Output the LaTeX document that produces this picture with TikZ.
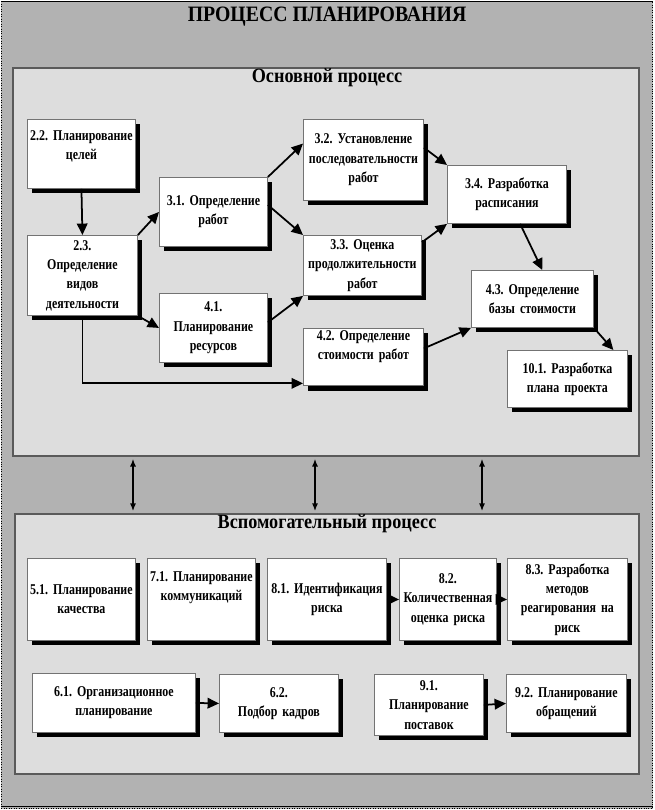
\documentclass[tikz,border=0pt]{standalone}
\usepackage{fontspec}
\setmainfont{Liberation Serif}
\newfontfamily\boxfont[FakeStretch=0.8, WordSpace=0.75]{Liberation Serif}
\newfontfamily\headfont[FakeStretch=0.9]{Liberation Serif}
\usepackage{tikz}
\usetikzlibrary{arrows.meta, positioning, calc, shadows}
\definecolor{outergray}{HTML}{B2B2B2}
\definecolor{innergray}{HTML}{DDDDDD}
\definecolor{framegray}{HTML}{5A5A5A}
\frenchspacing

\tikzset{
  frame/.style={draw=framegray, line width=1.1pt, fill=innergray, anchor=north west},
  blk/.style={draw=black!55, line width=0.5pt, fill=white, inner xsep=0pt, inner ysep=1pt,
    align=center, anchor=north west, font=\boxfont\fontsize{8.5}{11}\selectfont\bfseries,
    drop shadow={shadow xshift=0.1cm, shadow yshift=-0.1cm, opacity=1, fill=black}},
  bsize/.style 2 args={text width=#1cm, minimum height=#2cm},
  arr/.style={-{Triangle[length=6.5pt,width=6pt]}, line width=1pt},
  dbl/.style={{Latex[length=4.5pt,width=3.5pt]}-{Latex[length=4.5pt,width=3.5pt]}, line width=0.9pt}
}

\begin{document}
\begin{tikzpicture}[scale=1.0]
  \useasboundingbox (0,0) rectangle (13.08,-16.2);

  % Outer field
  \draw[densely dotted, fill=outergray] (0.03,-0.03) rectangle (13.05,-16.17);
  \draw[line width=0.8pt] (0.03,-0.03) -- (13.05,-0.03);
  \draw[line width=0.8pt] (0.03,-16.13) -- (13.05,-16.13);
  \node[font=\headfont\fontsize{12.5}{14}\selectfont\bfseries] (title) at (6.54,-0.34) {ПРОЦЕСС ПЛАНИРОВАНИЯ};

  % Main process frame
  \node[frame, minimum width=12.52cm, minimum height=7.76cm] (osn) at (0.24,-1.34) {};
  \node[font=\headfont\fontsize{11.5}{13}\selectfont\bfseries] (osnT) at (6.54,-1.56) {Основной процесс};

  % Supporting process frame
  \node[frame, minimum width=12.48cm, minimum height=5.2cm] (vsp) at (0.28,-10.26) {};
  \node[font=\headfont\fontsize{11.5}{13}\selectfont\bfseries] (vspT) at (6.54,-10.48) {Вспомогательный процесс};

  % Links between the two processes
  \foreach \xx in {2.66,6.3,9.64}
    \draw[dbl, shorten <=1pt, shorten >=1pt] (\xx,0 |- osn.south) -- (\xx,0 |- vsp.north);

  % Main process blocks
  \node[blk, bsize={2.16}{1.38}, text depth=0.73cm] (b22) at (0.54,-2.38) {2.2. Планирование\\целей};
  \node[blk, bsize={2.2}{1.6}] (b23) at (0.54,-4.7) {2.3.\\Определение\\видов\\деятельности};
  \node[blk, bsize={2.16}{1.38}] (b31) at (3.18,-3.54) {3.1. Определение\\работ};
  \node[blk, bsize={2.16}{1.38}] (b41) at (3.18,-5.86) {4.1.\\Планирование\\ресурсов};
  \node[blk, bsize={2.4}{1.62}] (b32) at (6.06,-2.38) {3.2. Установление\\последовательности\\работ};
  \node[blk, bsize={2.36}{1.2}] (b33) at (6.06,-4.7) {3.3. Оценка\\продолжительности\\работ};
  \node[blk, bsize={2.4}{1.14}, text depth=0.88cm] (b42) at (6.06,-6.56) {4.2. Определение\\стоимости работ};
  \node[blk, bsize={2.38}{1.16}] (b34) at (8.94,-3.3) {3.4. Разработка\\расписания};
  \node[blk, bsize={2.44}{1.14}] (b43) at (9.42,-5.4) {4.3. Определение\\базы стоимости};
  \node[blk, bsize={2.4}{1.14}] (b101) at (10.14,-7.0) {10.1. Разработка\\плана проекта};

  % Main process arrows
  \draw[arr] (b22.south) -- (b23.north);
  \draw[arr] (b23.north east) -- (b31.west);
  \draw[arr] (b23.south east) -- (b41.west);
  \draw[arr] (b23.south) |- ($(b42.north west)!0.95!(b42.south west)$);
  \draw[arr] (b31.north east) -- ($(b32.north west)!0.3!(b32.south west)$);
  \draw[arr] ($(b31.north east)!0.4!(b31.south east)$) -- (b33.north west);
  \draw[arr] ($(b41.north east)!0.42!(b41.south east)$) -- (b33.south west);
  \draw[arr] ($(b32.north east)!0.35!(b32.south east)$) -- (b34.north west);
  \draw[arr] ($(b33.north east)!0.12!(b33.south east)$) -- (b34.south west);
  \draw[arr] ($(b34.south west)!0.61!(b34.south east)$) -- ($(b43.north west)!0.58!(b43.north east)$);
  \draw[arr] ($(b42.north east)!0.35!(b42.south east)$) -- (b43.south west);
  \draw[arr] (b43.south east) -- ($(b101.north west)!0.88!(b101.north east)$);

  % Supporting process blocks
  \node[blk, bsize={2.16}{1.64}] (b51) at (0.54,-11.16) {5.1. Планирование\\качества};
  \node[blk, bsize={2.16}{1.64}, text depth=0.91cm] (b71) at (2.94,-11.16) {7.1. Планирование\\коммуникаций};
  \node[blk, bsize={2.38}{1.64}] (b81) at (5.34,-11.16) {8.1. Идентификация\\риска};
  \node[blk, bsize={1.94}{1.64}] (b82) at (7.98,-11.16) {8.2.\\Количественная\\оценка риска};
  \node[blk, bsize={2.4}{1.64}] (b83) at (10.14,-11.16) {8.3. Разработка\\методов\\реагирования на\\риск};
  \node[blk, bsize={3.26}{1.18}] (b61) at (0.64,-13.46) {6.1. Организационное\\планирование};
  \node[blk, bsize={2.38}{1.16}] (b62) at (4.38,-13.48) {6.2.\\Подбор кадров};
  \node[blk, bsize={2.18}{1.22}] (b91) at (7.48,-13.48) {9.1.\\Планирование\\поставок};
  \node[blk, bsize={2.4}{1.16}] (b92) at (10.12,-13.48) {9.2. Планирование\\обращений};

  % Supporting process arrows
  \draw[arr] (b81.east) -- (b82.west);
  \draw[arr] (b82.east) -- (b83.west);
  \draw[arr] (b61.east) -- (b62.west);
  \draw[arr] (b91.east) -- (b92.west);
\end{tikzpicture}
\end{document}
